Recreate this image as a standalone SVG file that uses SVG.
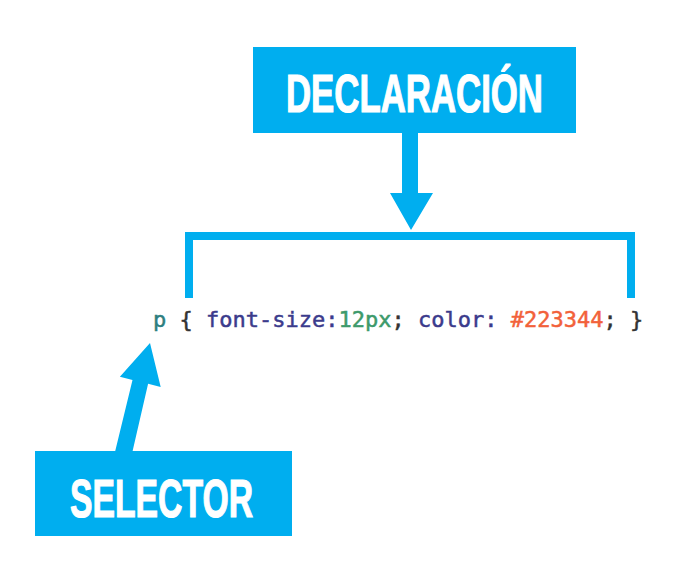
<svg xmlns="http://www.w3.org/2000/svg" width="696" height="564" viewBox="0 0 696 564">
  <style>
    .box { fill: #00AEEF; }
    .conn { fill: #00AEEF; }
    .label { font-family: "Liberation Sans", Arial, sans-serif; font-weight: bold; font-size: 54px; fill: #ffffff; stroke: #ffffff; stroke-width: 1.2px; }
    .code { font-family: "DejaVu Sans Mono", "Liberation Mono", monospace; font-size: 22px; fill: #333333; stroke-width: 0.5px; }
    .plain { stroke: #333333; }
    .sel { fill: #2e7f80; stroke: #2e7f80; }
    .prop { fill: #3b3b8c; stroke: #3b3b8c; }
    .num { fill: #3d9a6b; stroke: #3d9a6b; }
    .hex { fill: #f2613a; stroke: #f2613a; }
  </style>
  <rect width="696" height="564" fill="#ffffff"/>
  <g id="connectors">
    <!-- arrow from DECLARACION down to bracket -->
    <polygon class="conn" points="402,132 418,132 418,193 433,193 411,230 390,193 402,193"/>
    <!-- bracket -->
    <path class="conn" d="M185,232 H635 V298 H627 V240 H193 V298 H185 Z"/>
    <!-- arrow from SELECTOR up to p -->
    <polygon class="conn" points="114,456 132.5,379.9 119.9,376.7 150,343 160.7,386.9 148.1,383.7 131,458"/>
  </g>
  <g id="declaracion">
    <rect class="box" x="253" y="47" width="323" height="86"/>
    <text class="label" x="286" y="112" textLength="257" lengthAdjust="spacingAndGlyphs">DECLARACIÓN</text>
  </g>
  <g id="code">
    <text class="code plain" x="153" y="327" xml:space="preserve"><tspan class="sel">p</tspan> { <tspan class="prop">font-size:</tspan><tspan class="num">12px</tspan>; <tspan class="prop">color:</tspan> <tspan class="hex">#223344</tspan>; }</text>
  </g>
  <g id="selector">
    <rect class="box" x="35" y="451" width="257" height="85"/>
    <text class="label" x="70" y="517" textLength="183" lengthAdjust="spacingAndGlyphs">SELECTOR</text>
  </g>
</svg>
